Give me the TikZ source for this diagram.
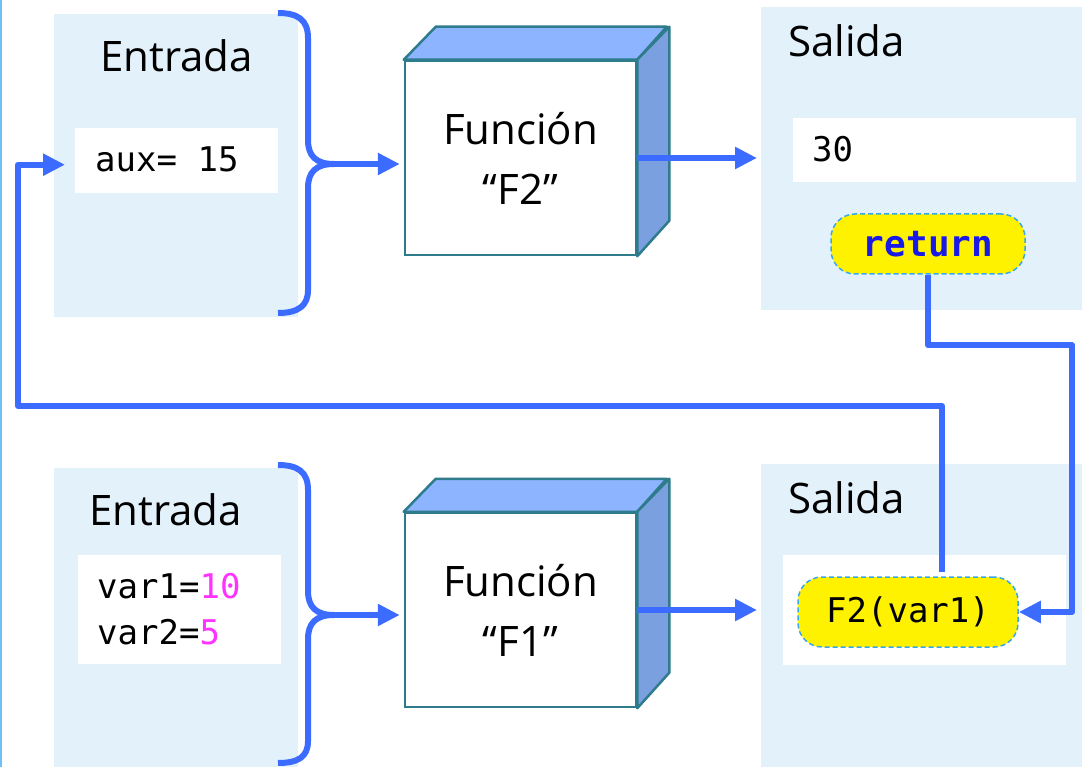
\documentclass[tikz,border=0pt]{standalone}
\usepackage{fontspec}
\setmainfont{Open Sans}
\setmonofont{DejaVu Sans Mono}
\usepackage{tikz}
\usetikzlibrary{arrows.meta,positioning}

\definecolor{panelblue}{HTML}{E3F1FB}
\definecolor{flowblue}{HTML}{3C6CFF}
\definecolor{boxedge}{HTML}{2E7B8C}
\definecolor{topblue}{HTML}{8CB4FF}
\definecolor{sideblue}{HTML}{7BA0E0}
\definecolor{dashblue}{HTML}{3AA8E8}
\definecolor{retblue}{HTML}{1A1AE6}
\definecolor{numpink}{HTML}{FF33FF}
\definecolor{edgeblue}{HTML}{70C0F5}

\tikzset{
  panel/.style={fill=panelblue, anchor=north west, inner sep=0},
  codebox/.style={fill=white, anchor=north west, inner sep=0},
  lbl/.style={font=\fontsize{42}{50}\selectfont, inner sep=0, anchor=base west},
  code/.style={font=\ttfamily\fontsize{34}{40}\selectfont, inner sep=0, anchor=base west},
  func/.style={draw=boxedge, line width=2.5pt, fill=white, minimum width=231pt,
    minimum height=194pt, align=center, font=\fontsize{42}{60}\selectfont},
  topface/.style={draw=boxedge, line width=2.5pt, fill=topblue, line join=round},
  sideface/.style={draw=boxedge, line width=2.5pt, fill=sideblue, line join=round},
  flow/.style={draw=flowblue, line width=6pt, line join=round,
    -{Triangle[length=22pt,width=21pt]}},
  brace/.style={draw=flowblue, line width=6pt},
  call/.style={draw=dashblue, dash pattern=on 5pt off 3pt, line width=1.5pt,
    fill=yellow, rounded corners=24pt, font=\ttfamily\fontsize{34}{40}\selectfont}
}

\begin{document}
\begin{tikzpicture}[x=1pt,y=-1pt]
  \useasboundingbox (0,0) rectangle (1082,767);
  \draw[edgeblue, line width=2pt] (1,0) -- (1,767);

  % panels
  \node[panel, minimum width=244pt, minimum height=303pt] (in2) at (54,14) {};
  \node[panel, minimum width=244pt, minimum height=299pt] (in1) at (54,468) {};
  \node[panel, minimum width=321pt, minimum height=303pt] (out2) at (761,7) {};
  \node[panel, minimum width=321pt, minimum height=303pt] (out1) at (761,464) {};

  \node[codebox, minimum width=203pt, minimum height=65pt] (aux) at (75,128) {};
  \node[codebox, minimum width=203pt, minimum height=109pt] (vars) at (78,555) {};
  \node[codebox, minimum width=283pt, minimum height=64pt] (res) at (793,118) {};
  \node[codebox, minimum width=283pt, minimum height=110pt] (callbox) at (783,555) {};

  \node[lbl] (t-in2) at (100,72) {Entrada};
  \node[lbl] (t-in1) at (89,525) {Entrada};
  \node[lbl] (t-out2) at (788,57) {Salida};
  \node[lbl] (t-out1) at (788,513) {Salida};

  \node[code] (t-aux) at (95,172) {aux= 15};
  \node[code] (t-var1) at (97,598) {var1=\textcolor{numpink}{10}};
  \node[code] (t-var2) at (97,644) {var2=\textcolor{numpink}{5}};
  \node[code] (t-res) at (812,162) {30};

  % braces
  \draw[brace] (278,13) .. controls (298,13) and (308,20) .. (308,38) -- (308,140)
    .. controls (308,156) and (316,164) .. (334,164)
    .. controls (316,164) and (308,172) .. (308,188) -- (308,290)
    .. controls (308,306) and (298,313) .. (278,313);
  \coordinate (b2) at (334,164);
  \draw[brace] (278,465) .. controls (298,465) and (308,472) .. (308,490) -- (308,591)
    .. controls (308,607) and (316,615) .. (334,615)
    .. controls (316,615) and (308,623) .. (308,639) -- (308,741)
    .. controls (308,757) and (298,763) .. (278,763);
  \coordinate (b1) at (334,615);

  % function boxes
  \node[func] (f2) at (520.5,158) {Función\\“F2”};
  \draw[topface] (f2.north west) -- ++(32,-33) -- ++(231,0) -- (f2.north east) -- cycle;
  \draw[sideface] (f2.north east) -- ++(32,-33) -- ++(0,194) -- (f2.south east) -- cycle;
  \node[func] (f1) at (520.5,610) {Función\\“F1”};
  \draw[topface] (f1.north west) -- ++(32,-33) -- ++(231,0) -- (f1.north east) -- cycle;
  \draw[sideface] (f1.north east) -- ++(32,-33) -- ++(0,194) -- (f1.south east) -- cycle;

  \draw[flow, shorten >=4pt] (b2) -- (b2 -| f2.west);
  \draw[flow, shorten >=4pt] (b1) -- (b1 -| f1.west);
  \draw[flow, shorten >=4pt] (f2.east) -- (f2.east -| out2.west);
  \draw[flow, shorten >=4pt] (f1.east) -- (f1.east -| out1.west);

  % return and call
  \coordinate (ret-turn) at (1072,345);
  \coordinate (back-turn) at (18,406);
  \node[call, minimum width=194pt, minimum height=60pt,
    font=\ttfamily\bfseries\fontsize{36}{40}\selectfont, text=retblue] (ret) at (928,244) {return};
  \node[call, minimum width=220pt, minimum height=70pt] (call) at (908,612) {F2(var1)};
  \draw[flow] ([xshift=34pt,yshift=4pt]call.north) |- (back-turn) |- ([yshift=-4pt]aux.west)
    [shorten >=10pt];
  \draw[flow] (ret.south) |- (ret-turn) |- (call.east);
\end{tikzpicture}
\end{document}
